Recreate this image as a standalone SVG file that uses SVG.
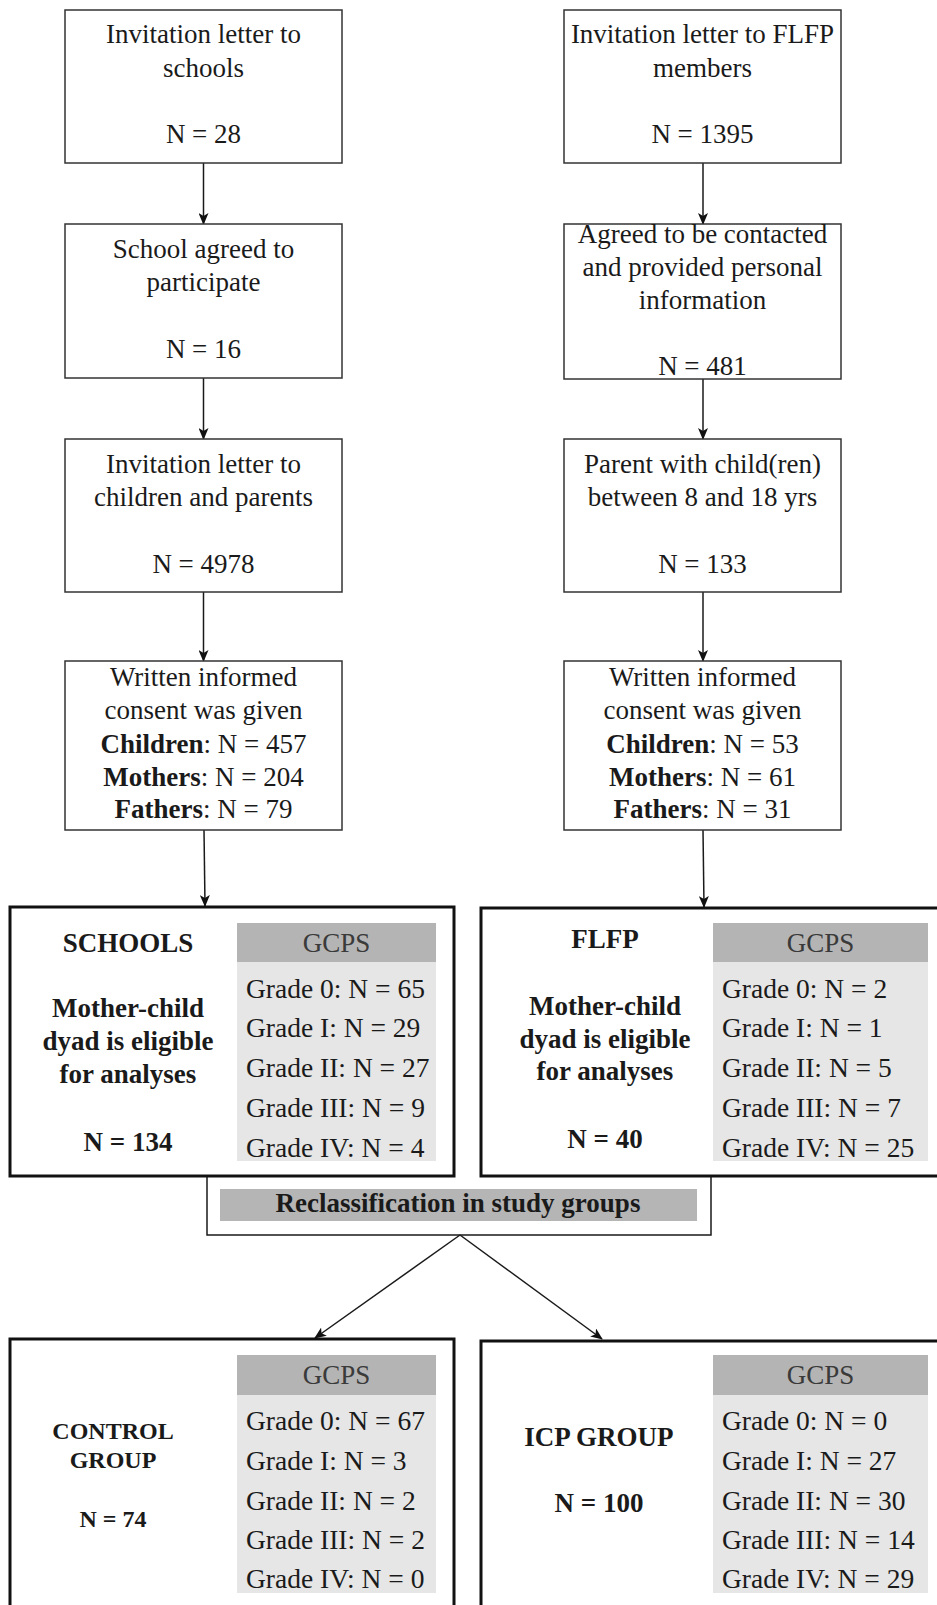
<svg xmlns="http://www.w3.org/2000/svg" width="937" height="1605" viewBox="0 0 937 1605">
<style>
text{font-family:"Liberation Serif","Times New Roman",serif;fill:#1a1a1a;}
.t{font-size:27px;text-anchor:middle;}
.b{font-size:27px;font-weight:bold;text-anchor:middle;}
.bs{font-size:24px;font-weight:bold;text-anchor:middle;}
.g{font-size:27.5px;}
.gh{font-size:27px;text-anchor:middle;fill:#3a3a3a;}
.box{fill:#fff;stroke:#333;stroke-width:1.5;}
.big{fill:#fff;stroke:#111;stroke-width:3;}
.hd{fill:#b4b4b4;}
.bd{fill:#e6e6e6;}
.ln{stroke:#1a1a1a;stroke-width:1.5;fill:none;}
</style>
<defs>
<marker id="ah" markerWidth="12" markerHeight="10" refX="11" refY="5" orient="auto" markerUnits="userSpaceOnUse">
<path d="M0,0 L12,5 L0,10 L3,5 z" fill="#111"/>
</marker>
</defs>
<rect width="937" height="1605" fill="#fff"/>

<g id="reclass">
<path class="ln" d="M207,1176 V1235 H711 V1176" stroke-width="2"/>
<rect x="220" y="1189" width="477" height="32" fill="#b5b5b5"/>
<text class="b" x="458" y="1212" font-size="28">Reclassification in study groups</text>
</g>

<g id="connectors">
<line class="ln" x1="203.5" y1="163" x2="203.5" y2="224" marker-end="url(#ah)"/>
<line class="ln" x1="203.5" y1="378" x2="203.5" y2="439" marker-end="url(#ah)"/>
<line class="ln" x1="203.5" y1="592" x2="203.5" y2="661" marker-end="url(#ah)"/>
<line class="ln" x1="204" y1="830" x2="205" y2="906" marker-end="url(#ah)"/>
<line class="ln" x1="703" y1="163" x2="703" y2="224" marker-end="url(#ah)"/>
<line class="ln" x1="703" y1="379" x2="703" y2="439" marker-end="url(#ah)"/>
<line class="ln" x1="703" y1="592" x2="703" y2="661" marker-end="url(#ah)"/>
<line class="ln" x1="703" y1="830" x2="704" y2="907" marker-end="url(#ah)"/>
<line class="ln" x1="460" y1="1235" x2="315" y2="1338" marker-end="url(#ah)"/>
<line class="ln" x1="460" y1="1235" x2="602" y2="1339" marker-end="url(#ah)"/>
</g>

<g id="l1">
<rect class="box" x="65" y="10" width="277" height="153"/>
<text class="t" x="203.5" y="43">Invitation letter to</text>
<text class="t" x="203.5" y="77">schools</text>
<text class="t" x="203.5" y="143">N = 28</text>
</g>
<g id="l2">
<rect class="box" x="65" y="224" width="277" height="154"/>
<text class="t" x="203.5" y="258">School agreed to</text>
<text class="t" x="203.5" y="291">participate</text>
<text class="t" x="203.5" y="358">N = 16</text>
</g>
<g id="l3">
<rect class="box" x="65" y="439" width="277" height="153"/>
<text class="t" x="203.5" y="473">Invitation letter to</text>
<text class="t" x="203.5" y="506">children and parents</text>
<text class="t" x="203.5" y="573">N = 4978</text>
</g>
<g id="l4">
<rect class="box" x="65" y="661" width="277" height="169"/>
<text class="t" x="203.5" y="686">Written informed</text>
<text class="t" x="203.5" y="719">consent was given</text>
<text class="t" x="203.5" y="753"><tspan font-weight="bold">Children</tspan>: N = 457</text>
<text class="t" x="203.5" y="786"><tspan font-weight="bold">Mothers</tspan>: N = 204</text>
<text class="t" x="203.5" y="818"><tspan font-weight="bold">Fathers</tspan>: N = 79</text>
</g>

<g id="r1">
<rect class="box" x="564" y="10" width="277" height="153"/>
<text class="t" x="702.5" y="43">Invitation letter to FLFP</text>
<text class="t" x="702.5" y="77">members</text>
<text class="t" x="702.5" y="143">N = 1395</text>
</g>
<g id="r2">
<rect class="box" x="564" y="224" width="277" height="155"/>
<text class="t" x="702.5" y="243">Agreed to be contacted</text>
<text class="t" x="702.5" y="276">and provided personal</text>
<text class="t" x="702.5" y="309">information</text>
<text class="t" x="702.5" y="375">N = 481</text>
</g>
<g id="r3">
<rect class="box" x="564" y="439" width="277" height="153"/>
<text class="t" x="702.5" y="473">Parent with child(ren)</text>
<text class="t" x="702.5" y="506">between 8 and 18 yrs</text>
<text class="t" x="702.5" y="573">N = 133</text>
</g>
<g id="r4">
<rect class="box" x="564" y="661" width="277" height="169"/>
<text class="t" x="702.5" y="686">Written informed</text>
<text class="t" x="702.5" y="719">consent was given</text>
<text class="t" x="702.5" y="753"><tspan font-weight="bold">Children</tspan>: N = 53</text>
<text class="t" x="702.5" y="786"><tspan font-weight="bold">Mothers</tspan>: N = 61</text>
<text class="t" x="702.5" y="818"><tspan font-weight="bold">Fathers</tspan>: N = 31</text>
</g>

<g id="schools">
<rect class="big" x="10" y="907" width="444" height="269"/>
<text class="b" x="128" y="952">SCHOOLS</text>
<text class="b" x="128" y="1017">Mother-child</text>
<text class="b" x="128" y="1050">dyad is eligible</text>
<text class="b" x="128" y="1083">for analyses</text>
<text class="b" x="128" y="1151">N = 134</text>
<rect class="hd" x="237" y="923" width="199" height="39"/>
<rect class="bd" x="237" y="962" width="199" height="199"/>
<text class="gh" x="336.5" y="952">GCPS</text>
<text class="g" x="246" y="998">Grade 0: N = 65</text>
<text class="g" x="246" y="1037">Grade I: N = 29</text>
<text class="g" x="246" y="1077">Grade II: N = 27</text>
<text class="g" x="246" y="1117">Grade III: N = 9</text>
<text class="g" x="246" y="1157">Grade IV: N = 4</text>
</g>

<g id="flfp">
<rect class="big" x="481" y="908" width="460" height="268"/>
<text class="b" x="605" y="948">FLFP</text>
<text class="b" x="605" y="1015">Mother-child</text>
<text class="b" x="605" y="1048">dyad is eligible</text>
<text class="b" x="605" y="1080">for analyses</text>
<text class="b" x="605" y="1148">N = 40</text>
<rect class="hd" x="713" y="923" width="215" height="39"/>
<rect class="bd" x="713" y="962" width="215" height="199"/>
<text class="gh" x="820.5" y="952">GCPS</text>
<text class="g" x="722" y="998">Grade 0: N = 2</text>
<text class="g" x="722" y="1037">Grade I: N = 1</text>
<text class="g" x="722" y="1077">Grade II: N = 5</text>
<text class="g" x="722" y="1117">Grade III: N = 7</text>
<text class="g" x="722" y="1157">Grade IV: N = 25</text>
</g>

<g id="control">
<rect class="big" x="10" y="1339" width="444" height="280"/>
<text class="bs" x="113" y="1439">CONTROL</text>
<text class="bs" x="113" y="1468">GROUP</text>
<text class="bs" x="113" y="1527">N = 74</text>
<rect class="hd" x="237" y="1355" width="199" height="40"/>
<rect class="bd" x="237" y="1395" width="199" height="198"/>
<text class="gh" x="336.5" y="1384">GCPS</text>
<text class="g" x="246" y="1430">Grade 0: N = 67</text>
<text class="g" x="246" y="1470">Grade I: N = 3</text>
<text class="g" x="246" y="1510">Grade II: N = 2</text>
<text class="g" x="246" y="1549">Grade III: N = 2</text>
<text class="g" x="246" y="1588">Grade IV: N = 0</text>
</g>

<g id="icp">
<rect class="big" x="481" y="1341" width="460" height="280"/>
<text class="b" x="599" y="1446">ICP GROUP</text>
<text class="b" x="599" y="1512">N = 100</text>
<rect class="hd" x="713" y="1355" width="215" height="40"/>
<rect class="bd" x="713" y="1395" width="215" height="198"/>
<text class="gh" x="820.5" y="1384">GCPS</text>
<text class="g" x="722" y="1430">Grade 0: N = 0</text>
<text class="g" x="722" y="1470">Grade I: N = 27</text>
<text class="g" x="722" y="1510">Grade II: N = 30</text>
<text class="g" x="722" y="1549">Grade III: N = 14</text>
<text class="g" x="722" y="1588">Grade IV: N = 29</text>
</g>
</svg>
